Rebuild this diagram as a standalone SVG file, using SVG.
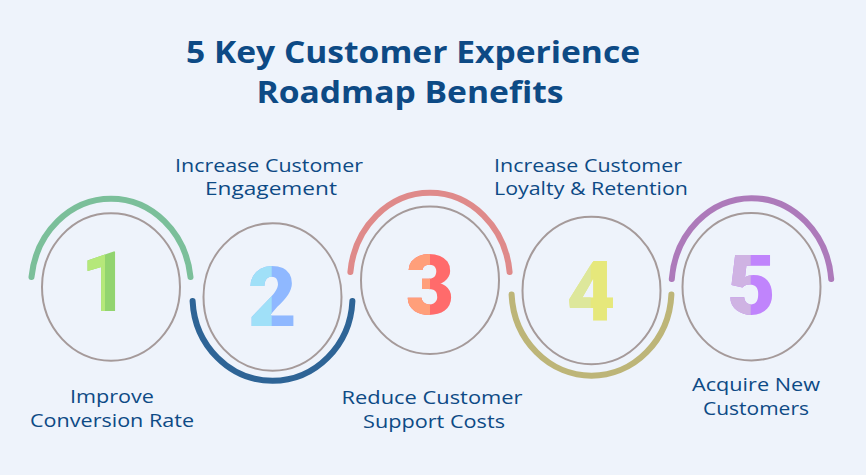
<svg xmlns="http://www.w3.org/2000/svg" width="866" height="475" viewBox="0 0 866 475">
<defs>
<style>
.bg{fill:#eef3fb}
.title{font-family:"Open Sans","Liberation Sans",sans-serif;font-weight:700;font-size:31px;fill:#0d4a85;text-anchor:middle}
.lbl{font-family:"Open Sans","Liberation Sans",sans-serif;font-weight:500;font-size:19px;fill:#0d4a85;text-anchor:middle}
.ring{fill:none;stroke:#a59a9a;stroke-width:2}
.arc{fill:none;stroke-width:6;stroke-linecap:round}
.num{font-family:"Roboto","Liberation Sans",sans-serif;font-weight:900;font-size:84px;text-anchor:middle}
</style>
<clipPath id="c1"><rect x="0" y="200" width="105" height="150"/></clipPath>
<clipPath id="c2"><rect x="0" y="200" width="271.7" height="150"/></clipPath>
<clipPath id="c3"><rect x="0" y="200" width="430" height="150"/></clipPath>
<clipPath id="c4"><rect x="0" y="200" width="590.7" height="150"/></clipPath>
<clipPath id="c5"><rect x="0" y="200" width="750.7" height="150"/></clipPath>
</defs>
<rect class="bg" x="0" y="0" width="866" height="475"/>
<g id="title">
<text class="title" x="413" y="63" textLength="454" lengthAdjust="spacingAndGlyphs">5 Key Customer Experience</text>
<text class="title" x="410" y="103" textLength="307" lengthAdjust="spacingAndGlyphs">Roadmap Benefits</text>
</g>
<g id="node-1">
<path class="arc" stroke="#7bbf9a" d="M31.5,277 A80,88 0 0 1 190.5,277"/>
<ellipse class="ring" cx="111" cy="287" rx="69" ry="73.7"/>
<text class="num" x="105" y="311" fill="#92d46f">1</text>
<text class="num" x="105" y="311" fill="#b5e87a" clip-path="url(#c1)">1</text>
<text class="lbl" x="112" y="403" textLength="84" lengthAdjust="spacingAndGlyphs">Improve</text>
<text class="lbl" x="112" y="427" textLength="164" lengthAdjust="spacingAndGlyphs">Conversion Rate</text>
</g>
<g id="node-2">
<path class="arc" stroke="#2e6496" d="M192.6,301 A80,84 0 0 0 352.4,301"/>
<ellipse class="ring" cx="272.5" cy="297" rx="69" ry="73.7"/>
<text class="num" x="272.3" y="326" fill="#8fb8ff">2</text>
<text class="num" x="272.3" y="326" fill="#a0e0f8" clip-path="url(#c2)">2</text>
<text class="lbl" x="269" y="171.5" textLength="188" lengthAdjust="spacingAndGlyphs">Increase Customer</text>
<text class="lbl" x="271" y="195" textLength="132" lengthAdjust="spacingAndGlyphs">Engagement</text>
</g>
<g id="node-3">
<path class="arc" stroke="#df8a8a" d="M350.4,272 A80,88 0 0 1 509.6,272"/>
<ellipse class="ring" cx="430" cy="280.3" rx="69" ry="73.7"/>
<text class="num" x="430" y="314" fill="#ff6b6b">3</text>
<text class="num" x="430" y="314" fill="#ff9f7a" clip-path="url(#c3)">3</text>
<text class="lbl" x="432" y="404" textLength="181" lengthAdjust="spacingAndGlyphs">Reduce Customer</text>
<text class="lbl" x="434" y="427.5" textLength="142" lengthAdjust="spacingAndGlyphs">Support Costs</text>
</g>
<g id="node-4">
<path class="arc" stroke="#bdb578" d="M511.6,294.5 A80,85.5 0 0 0 671.4,294.5"/>
<ellipse class="ring" cx="591.5" cy="290.5" rx="69" ry="73.7"/>
<text class="num" x="591" y="321" fill="#e6e87b">4</text>
<text class="num" x="591" y="321" fill="#dde79b" clip-path="url(#c4)">4</text>
<text class="lbl" x="588" y="171.5" textLength="188" lengthAdjust="spacingAndGlyphs">Increase Customer</text>
<text class="lbl" x="591" y="195" textLength="194" lengthAdjust="spacingAndGlyphs">Loyalty &amp; Retention</text>
</g>
<g id="node-5">
<path class="arc" stroke="#ad7aba" d="M671.8,279 A80,88.5 0 0 1 831.2,279"/>
<ellipse class="ring" cx="751.5" cy="286.7" rx="69" ry="73.7"/>
<text class="num" x="751.3" y="314" fill="#c084fc">5</text>
<text class="num" x="751.3" y="314" fill="#cfb3e3" clip-path="url(#c5)">5</text>
<text class="lbl" x="756" y="390.5" textLength="128" lengthAdjust="spacingAndGlyphs">Acquire New</text>
<text class="lbl" x="756" y="414.5" textLength="106" lengthAdjust="spacingAndGlyphs">Customers</text>
</g>
<g id="connectors"></g>
</svg>
